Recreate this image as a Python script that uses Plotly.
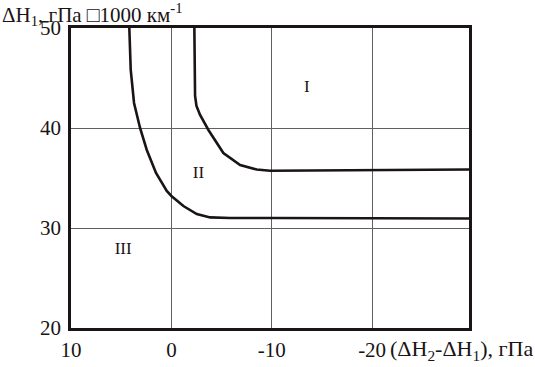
import plotly.graph_objects as go

# Data
x_ticks = [10, 0, -10, -20]
x_tick_labels = ["10", "0", "-10", "-20"]
y_ticks = [20, 30, 40, 50]
y_tick_labels = ["20", "30", "40", "50"]

lower_x = [4.19, 4.12, 4.05, 3.72, 3.12, 2.45, 1.53, 0.46, 0.0, -1.2, -2.53, -3.86, -5.85, -10, -20, -29.65]
lower_y = [50, 48.0, 45.8, 42.5, 40, 37.8, 35.5, 33.7, 33.2, 32.2, 31.4, 31.06, 31.0, 31.0, 30.98, 30.95]

upper_x = [-2.29, -2.33, -2.36, -2.5, -2.86, -3.69, -5.18, -6.85, -8.5, -9.84, -20, -29.65]
upper_y = [50, 46, 43.2, 42.2, 41.3, 39.8, 37.5, 36.3, 35.85, 35.73, 35.78, 35.85]

region_labels = ["I", "II", "III"]
region_x = [-13.5, -2.7, 4.8]
region_y = [44.0, 35.4, 27.8]

FONT = "Liberation Serif"
W, H = 535, 367
ML, MR, MT, MB = 71, 66, 28, 39

fig = go.Figure()
for xs, ys in [(lower_x, lower_y), (upper_x, upper_y)]:
    fig.add_trace(go.Scatter(x=xs, y=ys, mode="lines",
                             line=dict(color="#1a1414", width=2.6),
                             showlegend=False, hoverinfo="skip"))

fig.add_trace(go.Scatter(x=region_x, y=region_y, mode="text", text=region_labels,
                         textfont=dict(family=FONT, size=17, color="#1a1414"),
                         showlegend=False, hoverinfo="skip"))

fig.update_xaxes(range=[10, -29.65], tickvals=x_ticks, ticktext=x_tick_labels,
                 showgrid=True, gridcolor="#606060", gridwidth=1,
                 showline=True, mirror=True, linecolor="#1a1414", linewidth=2.5,
                 ticks="", zeroline=False, ticklabelstandoff=1, automargin=False,
                 tickfont=dict(family=FONT, size=21, color="#1a1414"))
fig.update_yaxes(range=[20, 50], tickvals=y_ticks, ticktext=y_tick_labels,
                 showgrid=True, gridcolor="#606060", gridwidth=1,
                 showline=True, mirror=True, linecolor="#1a1414", linewidth=2.5,
                 ticks="", zeroline=False, ticklabelstandoff=3, automargin=False,
                 tickfont=dict(family=FONT, size=21, color="#1a1414"))

pw = W - ML - MR
ph = H - MT - MB
fig.add_annotation(text="ΔH<sub>1</sub>, гПа □1000 км<sup>-1</sup>",
                   xref="paper", yref="paper", x=-ML / pw, y=1 + (MT + 2) / ph,
                   xanchor="left", yanchor="top", showarrow=False,
                   font=dict(family=FONT, size=21, color="#1a1414"))
fig.add_annotation(text="(ΔH<sub>2</sub>-ΔH<sub>1</sub>), гПа",
                   xref="paper", yref="paper", x=1 + MR / pw, y=-(MB - 1) / ph,
                   xanchor="right", yanchor="bottom", showarrow=False,
                   font=dict(family=FONT, size=22, color="#1a1414"))

fig.update_layout(width=W, height=H, margin=dict(l=ML, r=MR, t=MT, b=MB, autoexpand=False),
                  paper_bgcolor="white", plot_bgcolor="white")
fig.write_html("out.html")
